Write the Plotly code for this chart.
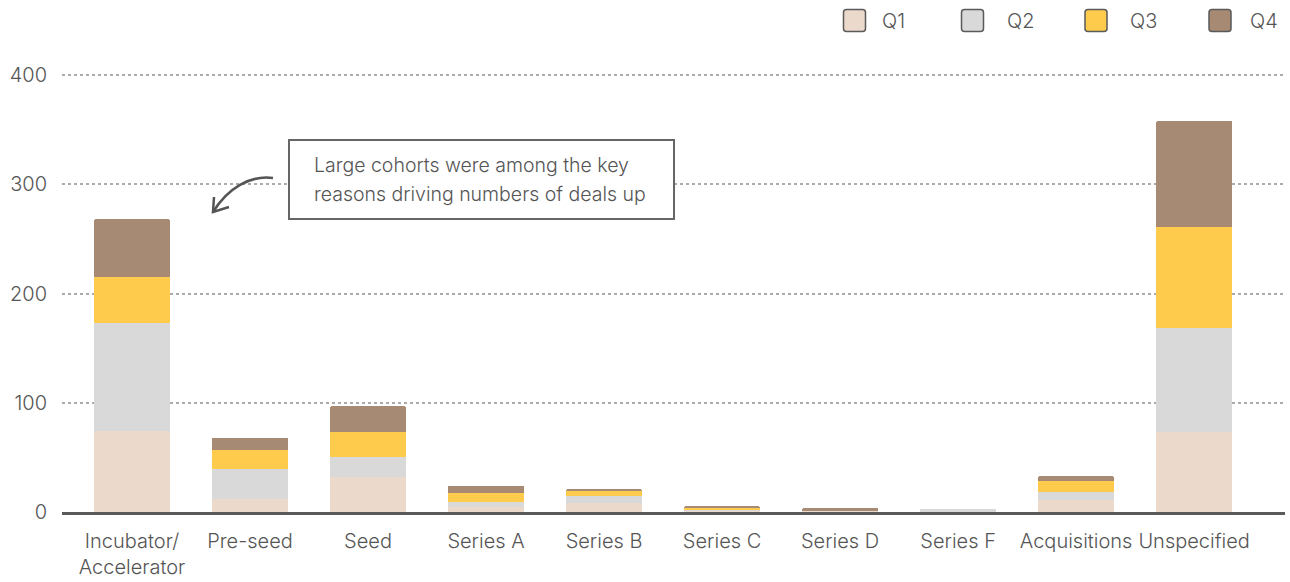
import plotly.graph_objects as go

# Deal counts by stage, split by quarter
categories = ["Incubator/<br>Accelerator", "Pre-seed", "Seed", "Series A", "Series B",
              "Series C", "Series D", "Series F", "Acquisitions", "Unspecified"]
q1 = [74, 12, 32, 5, 8, 1, 1, 0, 11, 73]
q2 = [99, 27, 18, 4, 7, 1, 0, 3, 7, 95]
q3 = [42, 18, 23, 8, 4, 2, 0, 0, 10, 93]
q4 = [53, 11, 24, 7, 2, 1, 3, 0, 5, 97]
quarters = ["Q1", "Q2", "Q3", "Q4"]
colors = ["#EBD9CB", "#D9D9D9", "#FECB4C", "#A78A74"]
y_ticks = [0, 100, 200, 300, 400]
note_lines = ["Large cohorts were among the key", "reasons driving numbers of deals up"]

W, H = 1290, 582
ML, MR, MT, MB = 62, 5, 55, 70
PW, PH = W - ML - MR, H - MT - MB
FONT = "Inter"
TXT = "#555555"
WEIGHT = 300


def px(x):
    return (x - ML) / PW


def py(y):
    return (H - MB - y) / PH


fig = go.Figure()
for name, vals, col in zip(quarters, [q1, q2, q3, q4], colors):
    fig.add_trace(go.Bar(x=categories, y=vals, name=name, marker_color=col,
                         marker_line_width=0, width=0.65, showlegend=False))

shapes = []
annotations = []

# legend: rounded swatches with labels
sw_cx = [854.5, 972.5, 1096, 1220]
lab_x = [880, 1005, 1128, 1248]
sq = ("M -8 -11 L 8 -11 Q 11 -11 11 -8 L 11 8 Q 11 11 8 11 L -8 11 "
      "Q -11 11 -11 8 L -11 -8 Q -11 -11 -8 -11 Z")
for name, col, cx, lx in zip(quarters, colors, sw_cx, lab_x):
    shapes.append(dict(type="path", xref="paper", yref="paper",
                       xsizemode="pixel", ysizemode="pixel",
                       xanchor=px(cx), yanchor=py(20.5), path=sq,
                       fillcolor=col, line=dict(color="#5a5a5a", width=1.5)))
    annotations.append(dict(text=name, x=px(lx), y=py(21), xref="paper", yref="paper",
                            xanchor="left", yanchor="middle", showarrow=False,
                            font=dict(family=FONT, size=20, color=TXT, weight=WEIGHT)))

# callout box
shapes.append(dict(type="rect", xref="paper", yref="paper",
                   x0=px(289), x1=px(674), y0=py(219), y1=py(140),
                   fillcolor="white", line=dict(color="#666666", width=2), layer="above"))
for line, ly in zip(note_lines, [165, 194]):
    annotations.append(dict(text=line, x=px(312), y=py(ly), xref="paper", yref="paper",
                            xanchor="left", yanchor="middle", align="left", showarrow=False,
                            font=dict(family=FONT, size=19.5, color=TXT, weight=WEIGHT)))

# curved arrow pointing at the first bar
curve = (f"M {px(273)} {py(178)} C {px(250)} {py(175)} {px(228)} {py(188)} {px(213)} {py(212)}")
head = (f"M {px(214)} {py(197)} L {px(213)} {py(212)} L {px(229)} {py(207)}")
for p in (curve, head):
    shapes.append(dict(type="path", xref="paper", yref="paper", path=p,
                       line=dict(color="#555555", width=2.5), layer="above"))

fig.update_layout(
    width=W, height=H,
    margin=dict(l=ML, r=MR, t=MT, b=MB),
    barmode="stack", barcornerradius=3,
    plot_bgcolor="white", paper_bgcolor="white",
    font=dict(family=FONT, size=20, color=TXT, weight=WEIGHT),
    shapes=shapes, annotations=annotations,
    xaxis=dict(type="category", range=[-0.593, 9.77], showgrid=False, automargin=False,
               showline=True, linecolor="#5a5a5a", linewidth=3,
               ticks="", ticklabelstandoff=9,
               tickfont=dict(family=FONT, size=20, color=TXT, weight=WEIGHT)),
    yaxis=dict(range=[0, PH / 1.0925], tickvals=y_ticks, showgrid=True, automargin=False,
               gridcolor="#ABABAB", gridwidth=2, griddash="dot",
               zeroline=False, showline=False, ticks="", ticklabelstandoff=14,
               tickfont=dict(family=FONT, size=20, color=TXT, weight=WEIGHT)),
)

fig.write_html("out.html")
